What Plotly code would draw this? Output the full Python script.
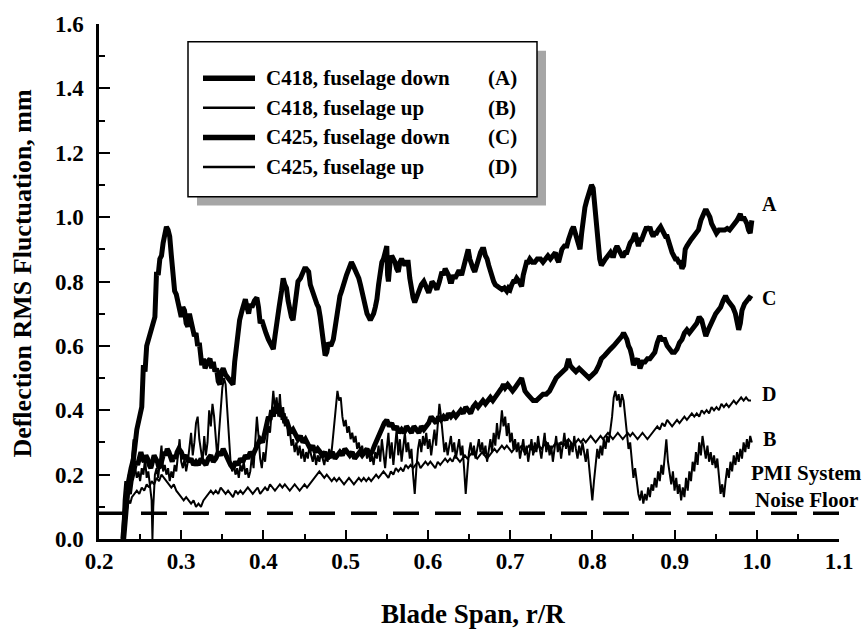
import plotly.graph_objects as go

# ---- data: deflection RMS fluctuation (mm) vs blade span r/R ----
a_x = [0.230,0.233,0.236,0.239,0.242,0.246,0.249,0.252,0.254,0.256,0.258,0.262,0.266,0.268,0.270,0.272,0.274,0.276,0.278,0.280,0.282,0.284,0.286,0.288,0.290,0.292,0.294,0.296,0.298,0.300,0.302,0.304,0.306,0.308,0.310,0.312,0.314,0.316,0.318,0.320,0.322,0.325,0.327,0.329,0.332,0.335,0.337,0.339,0.341,0.343,0.345,0.347,0.349,0.351,0.354,0.357,0.360,0.363,0.365,0.367,0.369,0.371,0.374,0.378,0.380,0.382,0.384,0.386,0.389,0.392,0.394,0.396,0.398,0.400,0.403,0.406,0.409,0.412,0.414,0.416,0.419,0.422,0.424,0.426,0.428,0.430,0.432,0.434,0.436,0.438,0.440,0.442,0.445,0.448,0.450,0.452,0.455,0.457,0.459,0.461,0.463,0.465,0.467,0.469,0.471,0.473,0.475,0.477,0.479,0.482,0.485,0.487,0.489,0.491,0.493,0.495,0.497,0.499,0.501,0.504,0.507,0.509,0.511,0.513,0.516,0.518,0.520,0.523,0.526,0.528,0.530,0.532,0.534,0.536,0.538,0.540,0.542,0.544,0.546,0.548,0.550,0.551,0.552,0.554,0.556,0.558,0.560,0.562,0.564,0.566,0.568,0.570,0.572,0.574,0.576,0.578,0.580,0.582,0.584,0.586,0.589,0.592,0.595,0.597,0.599,0.601,0.603,0.605,0.608,0.611,0.614,0.617,0.619,0.621,0.623,0.625,0.627,0.629,0.631,0.633,0.635,0.637,0.639,0.641,0.643,0.645,0.647,0.649,0.651,0.653,0.655,0.657,0.660,0.664,0.666,0.668,0.670,0.672,0.674,0.676,0.678,0.680,0.682,0.684,0.687,0.690,0.693,0.696,0.698,0.700,0.702,0.704,0.706,0.708,0.711,0.714,0.716,0.718,0.720,0.722,0.724,0.727,0.730,0.733,0.737,0.740,0.743,0.746,0.749,0.752,0.755,0.757,0.759,0.761,0.763,0.766,0.769,0.771,0.773,0.775,0.777,0.779,0.781,0.783,0.785,0.787,0.789,0.791,0.793,0.795,0.797,0.799,0.801,0.803,0.805,0.807,0.809,0.811,0.813,0.816,0.819,0.822,0.824,0.826,0.828,0.830,0.832,0.834,0.836,0.838,0.840,0.842,0.844,0.846,0.849,0.852,0.854,0.856,0.858,0.860,0.863,0.866,0.868,0.870,0.872,0.874,0.876,0.878,0.880,0.883,0.885,0.887,0.889,0.891,0.893,0.895,0.897,0.899,0.901,0.903,0.905,0.907,0.909,0.911,0.913,0.915,0.917,0.920,0.923,0.926,0.929,0.932,0.935,0.937,0.939,0.941,0.943,0.945,0.947,0.949,0.951,0.954,0.958,0.961,0.964,0.967,0.970,0.972,0.974,0.976,0.978,0.980,0.982,0.984,0.986,0.988,0.990,0.992,0.994]
a_y = [0.00,0.10,0.18,0.22,0.25,0.34,0.38,0.41,0.54,0.52,0.60,0.64,0.67,0.69,0.83,0.82,0.87,0.88,0.92,0.95,0.97,0.96,0.94,0.88,0.83,0.77,0.76,0.73,0.72,0.69,0.72,0.71,0.67,0.66,0.70,0.68,0.66,0.63,0.64,0.60,0.61,0.54,0.56,0.53,0.55,0.56,0.53,0.55,0.52,0.53,0.49,0.48,0.52,0.53,0.51,0.50,0.49,0.48,0.55,0.60,0.64,0.68,0.71,0.745,0.72,0.70,0.73,0.72,0.74,0.75,0.72,0.67,0.68,0.66,0.64,0.62,0.60,0.59,0.63,0.68,0.72,0.77,0.81,0.79,0.78,0.74,0.70,0.69,0.68,0.72,0.78,0.80,0.81,0.83,0.84,0.84,0.83,0.79,0.77,0.75,0.745,0.73,0.72,0.69,0.66,0.61,0.57,0.58,0.61,0.60,0.62,0.66,0.69,0.72,0.755,0.77,0.79,0.80,0.82,0.84,0.86,0.85,0.84,0.83,0.81,0.79,0.765,0.73,0.70,0.69,0.68,0.69,0.70,0.72,0.745,0.79,0.84,0.86,0.87,0.89,0.91,0.82,0.80,0.86,0.88,0.87,0.86,0.84,0.83,0.86,0.87,0.86,0.85,0.86,0.86,0.81,0.775,0.75,0.735,0.75,0.775,0.79,0.80,0.79,0.78,0.765,0.78,0.80,0.79,0.775,0.80,0.83,0.82,0.84,0.83,0.82,0.80,0.80,0.82,0.81,0.82,0.83,0.83,0.82,0.84,0.86,0.88,0.90,0.87,0.85,0.84,0.83,0.86,0.89,0.90,0.90,0.88,0.87,0.85,0.83,0.81,0.80,0.79,0.785,0.78,0.775,0.78,0.77,0.78,0.775,0.79,0.80,0.80,0.81,0.80,0.785,0.82,0.85,0.86,0.86,0.87,0.86,0.86,0.87,0.87,0.86,0.87,0.88,0.87,0.88,0.89,0.87,0.86,0.88,0.90,0.91,0.91,0.93,0.95,0.96,0.97,0.95,0.93,0.91,0.90,0.95,1.00,1.03,1.05,1.07,1.09,1.10,1.09,1.04,0.99,0.91,0.87,0.85,0.86,0.87,0.88,0.89,0.88,0.88,0.90,0.91,0.90,0.89,0.88,0.88,0.89,0.89,0.91,0.92,0.93,0.95,0.93,0.91,0.93,0.93,0.95,0.97,0.96,0.97,0.95,0.94,0.95,0.95,0.96,0.97,0.96,0.95,0.94,0.94,0.92,0.90,0.89,0.88,0.87,0.87,0.86,0.86,0.84,0.85,0.90,0.91,0.92,0.93,0.94,0.95,0.96,0.99,1.01,1.02,1.02,1.01,1.00,0.98,0.97,0.96,0.95,0.96,0.96,0.96,0.965,0.96,0.97,0.975,0.98,0.99,1.00,1.01,0.99,1.00,0.99,0.98,0.96,0.95,0.99]

b_x = [0.228,0.230,0.232,0.234,0.236,0.238,0.240,0.242,0.244,0.246,0.248,0.250,0.252,0.254,0.256,0.258,0.260,0.262,0.264,0.265,0.266,0.268,0.270,0.272,0.274,0.276,0.278,0.280,0.282,0.284,0.286,0.288,0.290,0.292,0.294,0.296,0.298,0.300,0.302,0.304,0.306,0.308,0.310,0.312,0.314,0.316,0.318,0.320,0.322,0.324,0.326,0.328,0.330,0.332,0.334,0.336,0.338,0.340,0.342,0.344,0.346,0.348,0.350,0.352,0.354,0.356,0.358,0.360,0.362,0.364,0.366,0.368,0.370,0.372,0.374,0.376,0.378,0.380,0.382,0.384,0.386,0.388,0.390,0.392,0.394,0.396,0.398,0.400,0.402,0.404,0.406,0.408,0.410,0.412,0.414,0.416,0.418,0.420,0.422,0.424,0.426,0.428,0.430,0.432,0.434,0.436,0.438,0.440,0.442,0.444,0.446,0.448,0.450,0.452,0.454,0.456,0.458,0.460,0.462,0.464,0.466,0.468,0.470,0.472,0.474,0.476,0.478,0.480,0.482,0.484,0.486,0.488,0.490,0.492,0.494,0.496,0.498,0.500,0.502,0.504,0.506,0.508,0.510,0.512,0.514,0.516,0.518,0.520,0.522,0.524,0.526,0.528,0.530,0.532,0.534,0.536,0.538,0.540,0.542,0.544,0.546,0.548,0.550,0.552,0.554,0.556,0.558,0.560,0.562,0.564,0.566,0.568,0.570,0.572,0.574,0.576,0.578,0.580,0.582,0.584,0.586,0.588,0.590,0.592,0.594,0.596,0.598,0.600,0.602,0.604,0.606,0.608,0.610,0.612,0.614,0.616,0.618,0.620,0.622,0.624,0.626,0.628,0.630,0.632,0.634,0.636,0.638,0.640,0.642,0.644,0.646,0.648,0.650,0.652,0.654,0.656,0.658,0.660,0.662,0.664,0.666,0.668,0.670,0.672,0.674,0.676,0.678,0.680,0.682,0.684,0.686,0.688,0.690,0.692,0.694,0.696,0.698,0.700,0.702,0.704,0.706,0.708,0.710,0.712,0.714,0.716,0.718,0.720,0.722,0.724,0.726,0.728,0.730,0.732,0.734,0.736,0.738,0.740,0.742,0.744,0.746,0.748,0.750,0.752,0.754,0.756,0.758,0.760,0.762,0.764,0.766,0.768,0.770,0.772,0.774,0.776,0.778,0.780,0.782,0.784,0.786,0.788,0.790,0.792,0.794,0.796,0.798,0.800,0.802,0.804,0.806,0.808,0.810,0.812,0.814,0.816,0.818,0.820,0.822,0.824,0.826,0.828,0.830,0.832,0.834,0.836,0.838,0.840,0.842,0.844,0.846,0.848,0.850,0.852,0.854,0.856,0.858,0.860,0.862,0.864,0.866,0.868,0.870,0.872,0.874,0.876,0.878,0.880,0.882,0.884,0.886,0.888,0.890,0.892,0.894,0.896,0.898,0.900,0.902,0.904,0.906,0.908,0.910,0.912,0.914,0.916,0.918,0.920,0.922,0.924,0.926,0.928,0.930,0.932,0.934,0.936,0.938,0.940,0.942,0.944,0.946,0.948,0.950,0.952,0.954,0.956,0.958,0.960,0.962,0.964,0.966,0.968,0.970,0.972,0.974,0.976,0.978,0.980,0.982,0.984,0.986,0.988,0.990,0.992,0.994]
b_y = [0.00,0.12,0.18,0.15,0.20,0.17,0.25,0.31,0.22,0.19,0.21,0.18,0.22,0.20,0.25,0.19,0.21,0.17,0.12,0.00,0.10,0.20,0.22,0.19,0.24,0.29,0.21,0.23,0.20,0.22,0.18,0.21,0.19,0.23,0.21,0.26,0.31,0.24,0.22,0.25,0.21,0.24,0.28,0.33,0.26,0.30,0.36,0.38,0.31,0.27,0.24,0.32,0.26,0.30,0.40,0.35,0.42,0.38,0.30,0.25,0.33,0.42,0.47,0.50,0.48,0.40,0.30,0.24,0.21,0.23,0.20,0.22,0.19,0.23,0.21,0.24,0.20,0.22,0.19,0.21,0.26,0.22,0.30,0.38,0.32,0.25,0.22,0.27,0.24,0.30,0.35,0.33,0.40,0.46,0.40,0.44,0.38,0.45,0.37,0.41,0.35,0.38,0.32,0.34,0.29,0.31,0.27,0.30,0.26,0.29,0.25,0.28,0.24,0.27,0.25,0.29,0.26,0.24,0.27,0.23,0.26,0.24,0.27,0.25,0.23,0.26,0.24,0.28,0.25,0.30,0.36,0.42,0.46,0.43,0.44,0.38,0.35,0.37,0.33,0.35,0.31,0.33,0.30,0.32,0.28,0.30,0.27,0.29,0.26,0.28,0.25,0.27,0.24,0.26,0.23,0.27,0.25,0.29,0.24,0.31,0.26,0.22,0.28,0.33,0.25,0.30,0.23,0.28,0.34,0.26,0.31,0.24,0.29,0.33,0.27,0.30,0.25,0.28,0.20,0.14,0.22,0.28,0.31,0.27,0.32,0.29,0.33,0.28,0.31,0.26,0.30,0.34,0.29,0.36,0.42,0.38,0.31,0.27,0.30,0.26,0.29,0.32,0.27,0.30,0.25,0.28,0.31,0.26,0.29,0.22,0.14,0.21,0.27,0.30,0.26,0.29,0.25,0.28,0.31,0.27,0.30,0.26,0.29,0.24,0.28,0.31,0.27,0.33,0.29,0.36,0.31,0.34,0.40,0.35,0.38,0.32,0.36,0.30,0.33,0.28,0.31,0.27,0.30,0.25,0.28,0.31,0.26,0.29,0.24,0.28,0.31,0.26,0.30,0.27,0.32,0.28,0.25,0.29,0.33,0.27,0.30,0.26,0.29,0.24,0.28,0.32,0.27,0.30,0.25,0.29,0.33,0.28,0.31,0.26,0.30,0.27,0.32,0.28,0.25,0.29,0.26,0.30,0.27,0.24,0.28,0.22,0.17,0.12,0.18,0.24,0.28,0.25,0.29,0.26,0.31,0.28,0.32,0.30,0.34,0.38,0.44,0.46,0.43,0.45,0.41,0.45,0.43,0.38,0.32,0.28,0.30,0.24,0.19,0.22,0.17,0.14,0.12,0.15,0.11,0.14,0.12,0.16,0.13,0.17,0.15,0.19,0.16,0.21,0.18,0.23,0.20,0.27,0.31,0.24,0.20,0.17,0.21,0.15,0.19,0.14,0.17,0.12,0.16,0.13,0.19,0.15,0.21,0.18,0.24,0.21,0.27,0.23,0.30,0.26,0.32,0.28,0.25,0.29,0.24,0.27,0.23,0.26,0.22,0.25,0.19,0.14,0.17,0.13,0.18,0.22,0.19,0.24,0.21,0.26,0.23,0.27,0.24,0.28,0.25,0.30,0.27,0.31,0.28,0.32,0.30]

c_x = [0.229,0.231,0.233,0.235,0.237,0.239,0.241,0.243,0.245,0.247,0.249,0.251,0.253,0.255,0.257,0.259,0.261,0.263,0.265,0.267,0.269,0.271,0.273,0.275,0.277,0.279,0.281,0.283,0.285,0.287,0.289,0.291,0.293,0.295,0.297,0.300,0.303,0.306,0.309,0.312,0.315,0.318,0.321,0.324,0.327,0.330,0.333,0.336,0.339,0.342,0.345,0.348,0.351,0.354,0.357,0.360,0.363,0.366,0.369,0.372,0.375,0.378,0.381,0.384,0.387,0.390,0.393,0.396,0.399,0.402,0.404,0.406,0.408,0.410,0.412,0.414,0.416,0.418,0.420,0.422,0.424,0.426,0.428,0.430,0.433,0.436,0.439,0.442,0.445,0.448,0.451,0.454,0.457,0.460,0.463,0.466,0.469,0.472,0.475,0.478,0.481,0.484,0.487,0.490,0.493,0.496,0.499,0.502,0.505,0.508,0.511,0.514,0.517,0.520,0.523,0.526,0.529,0.532,0.535,0.538,0.541,0.544,0.547,0.550,0.553,0.556,0.559,0.562,0.565,0.568,0.571,0.574,0.577,0.580,0.583,0.586,0.589,0.592,0.595,0.598,0.601,0.604,0.607,0.610,0.613,0.616,0.619,0.622,0.625,0.628,0.631,0.634,0.637,0.640,0.643,0.646,0.649,0.652,0.655,0.658,0.661,0.664,0.667,0.670,0.673,0.676,0.679,0.682,0.685,0.688,0.690,0.692,0.694,0.697,0.700,0.703,0.706,0.709,0.712,0.714,0.716,0.718,0.721,0.724,0.728,0.732,0.736,0.740,0.744,0.748,0.752,0.756,0.760,0.764,0.768,0.771,0.773,0.776,0.780,0.784,0.788,0.792,0.796,0.800,0.804,0.808,0.811,0.815,0.818,0.822,0.826,0.830,0.833,0.836,0.838,0.840,0.842,0.844,0.846,0.848,0.850,0.852,0.855,0.858,0.861,0.864,0.867,0.870,0.873,0.876,0.879,0.882,0.885,0.888,0.891,0.894,0.897,0.900,0.903,0.906,0.909,0.912,0.915,0.918,0.921,0.924,0.927,0.930,0.933,0.936,0.938,0.941,0.944,0.947,0.950,0.953,0.956,0.959,0.962,0.965,0.968,0.971,0.974,0.976,0.978,0.980,0.982,0.985,0.988,0.991,0.994]
c_y = [0.00,0.08,0.12,0.15,0.14,0.18,0.20,0.22,0.24,0.23,0.26,0.27,0.25,0.24,0.26,0.25,0.23,0.22,0.24,0.26,0.25,0.24,0.22,0.23,0.25,0.27,0.26,0.28,0.27,0.25,0.24,0.26,0.25,0.27,0.28,0.27,0.25,0.26,0.24,0.25,0.23,0.24,0.23,0.25,0.24,0.23,0.25,0.26,0.24,0.25,0.27,0.26,0.28,0.26,0.25,0.23,0.22,0.24,0.23,0.25,0.24,0.26,0.25,0.27,0.26,0.28,0.30,0.31,0.30,0.33,0.36,0.38,0.37,0.40,0.38,0.41,0.39,0.42,0.40,0.38,0.39,0.36,0.37,0.35,0.33,0.34,0.32,0.31,0.32,0.30,0.31,0.29,0.28,0.29,0.27,0.28,0.27,0.26,0.27,0.25,0.26,0.27,0.25,0.26,0.27,0.26,0.28,0.27,0.26,0.27,0.25,0.26,0.27,0.26,0.27,0.28,0.26,0.27,0.29,0.31,0.33,0.35,0.36,0.37,0.35,0.36,0.34,0.35,0.33,0.34,0.33,0.35,0.34,0.33,0.35,0.34,0.33,0.35,0.34,0.35,0.36,0.38,0.37,0.36,0.38,0.37,0.38,0.37,0.39,0.38,0.39,0.38,0.39,0.40,0.39,0.41,0.40,0.39,0.41,0.42,0.41,0.42,0.43,0.42,0.43,0.44,0.43,0.44,0.45,0.46,0.47,0.48,0.47,0.48,0.47,0.46,0.47,0.48,0.49,0.50,0.48,0.46,0.45,0.44,0.43,0.43,0.44,0.45,0.45,0.46,0.48,0.50,0.51,0.52,0.53,0.56,0.54,0.53,0.52,0.53,0.52,0.51,0.50,0.51,0.52,0.54,0.56,0.57,0.58,0.59,0.60,0.61,0.62,0.63,0.64,0.63,0.62,0.60,0.59,0.57,0.54,0.55,0.56,0.53,0.55,0.55,0.56,0.56,0.57,0.58,0.61,0.63,0.62,0.62,0.60,0.59,0.58,0.58,0.59,0.61,0.62,0.64,0.65,0.64,0.65,0.66,0.67,0.69,0.68,0.65,0.63,0.65,0.67,0.68,0.70,0.71,0.72,0.74,0.755,0.74,0.73,0.72,0.70,0.67,0.65,0.67,0.71,0.73,0.74,0.75,0.745]

d_x = [0.230,0.232,0.234,0.236,0.238,0.240,0.243,0.246,0.249,0.252,0.255,0.258,0.261,0.264,0.267,0.270,0.273,0.276,0.279,0.282,0.285,0.288,0.291,0.294,0.297,0.300,0.303,0.306,0.309,0.312,0.315,0.318,0.321,0.324,0.327,0.330,0.333,0.336,0.339,0.342,0.345,0.348,0.351,0.354,0.357,0.360,0.363,0.366,0.369,0.372,0.375,0.378,0.381,0.384,0.387,0.390,0.393,0.396,0.399,0.402,0.405,0.408,0.411,0.414,0.417,0.420,0.423,0.426,0.429,0.432,0.435,0.438,0.441,0.444,0.447,0.450,0.453,0.456,0.459,0.462,0.465,0.468,0.471,0.474,0.477,0.480,0.483,0.486,0.489,0.492,0.495,0.498,0.501,0.504,0.507,0.510,0.513,0.516,0.519,0.522,0.525,0.528,0.531,0.534,0.537,0.540,0.543,0.546,0.549,0.552,0.555,0.558,0.561,0.564,0.567,0.570,0.573,0.576,0.579,0.582,0.585,0.588,0.591,0.594,0.597,0.600,0.603,0.606,0.609,0.612,0.615,0.618,0.621,0.624,0.627,0.630,0.633,0.636,0.639,0.642,0.645,0.648,0.651,0.654,0.657,0.660,0.663,0.666,0.669,0.672,0.675,0.678,0.681,0.684,0.687,0.690,0.693,0.696,0.699,0.702,0.705,0.708,0.711,0.714,0.717,0.720,0.723,0.726,0.729,0.732,0.735,0.738,0.741,0.744,0.747,0.750,0.753,0.756,0.759,0.762,0.765,0.768,0.771,0.774,0.777,0.780,0.783,0.786,0.789,0.792,0.795,0.798,0.801,0.804,0.807,0.810,0.813,0.816,0.819,0.822,0.825,0.828,0.831,0.834,0.837,0.840,0.843,0.846,0.849,0.852,0.855,0.858,0.861,0.864,0.867,0.870,0.873,0.876,0.879,0.882,0.885,0.888,0.891,0.894,0.897,0.900,0.903,0.906,0.909,0.912,0.915,0.918,0.921,0.924,0.927,0.930,0.933,0.936,0.939,0.942,0.945,0.948,0.951,0.954,0.957,0.960,0.963,0.966,0.969,0.972,0.975,0.978,0.981,0.984,0.987,0.990,0.993]
d_y = [0.00,0.05,0.09,0.12,0.11,0.13,0.14,0.15,0.14,0.16,0.15,0.17,0.16,0.18,0.17,0.19,0.18,0.20,0.19,0.18,0.17,0.16,0.17,0.15,0.14,0.13,0.12,0.13,0.12,0.11,0.12,0.10,0.11,0.10,0.12,0.13,0.14,0.15,0.14,0.15,0.14,0.16,0.15,0.14,0.15,0.14,0.13,0.15,0.14,0.15,0.14,0.15,0.16,0.15,0.14,0.15,0.16,0.14,0.15,0.16,0.15,0.17,0.16,0.15,0.16,0.17,0.16,0.17,0.16,0.15,0.16,0.17,0.16,0.15,0.16,0.17,0.16,0.17,0.18,0.19,0.20,0.21,0.20,0.19,0.20,0.19,0.18,0.19,0.18,0.19,0.18,0.17,0.18,0.19,0.18,0.17,0.18,0.19,0.18,0.19,0.18,0.19,0.18,0.19,0.20,0.19,0.20,0.21,0.20,0.19,0.21,0.20,0.22,0.21,0.22,0.21,0.23,0.22,0.23,0.22,0.23,0.24,0.22,0.23,0.24,0.23,0.24,0.23,0.22,0.24,0.23,0.24,0.25,0.24,0.25,0.24,0.26,0.25,0.24,0.25,0.26,0.25,0.26,0.27,0.26,0.25,0.26,0.27,0.26,0.25,0.26,0.27,0.28,0.27,0.28,0.29,0.28,0.29,0.28,0.27,0.28,0.29,0.28,0.29,0.27,0.28,0.29,0.28,0.27,0.28,0.29,0.28,0.29,0.30,0.29,0.28,0.29,0.30,0.29,0.30,0.29,0.30,0.31,0.30,0.29,0.30,0.31,0.30,0.31,0.30,0.31,0.32,0.31,0.30,0.31,0.32,0.31,0.32,0.33,0.32,0.31,0.32,0.33,0.32,0.31,0.32,0.33,0.32,0.33,0.32,0.31,0.32,0.33,0.32,0.31,0.32,0.33,0.34,0.35,0.34,0.36,0.35,0.37,0.36,0.35,0.36,0.37,0.36,0.37,0.38,0.37,0.38,0.39,0.38,0.39,0.38,0.40,0.39,0.40,0.39,0.41,0.40,0.41,0.40,0.42,0.41,0.42,0.41,0.42,0.43,0.42,0.43,0.44,0.43,0.44,0.43,0.43]

noise_floor = 0.08
series_names = ["C418, fuselage down", "C418, fuselage up", "C425, fuselage down", "C425, fuselage up"]
series_tags = ["(A)", "(B)", "(C)", "(D)"]
end_labels = ["A", "B", "C", "D"]
end_label_y = [1.04, 0.31, 0.748, 0.45]

# ---- geometry (pixels) ----
W, H = 866, 632
ML, MR, MT, MB = 99, 27, 17, 93
PW, PH = W - ML - MR, H - MT - MB
FONT = "Liberation Serif"


def px(xp):
    return (xp - ML) / PW


def py(yp):
    return 1 - (yp - MT) / PH


def bold(size):
    return dict(family=FONT, size=size, color="black", weight="bold")


fig = go.Figure()

widths = [5, 2, 5, 2]
for xs, ys, w, name in zip([a_x, b_x, c_x, d_x], [a_y, b_y, c_y, d_y], widths, series_names):
    fig.add_trace(go.Scatter(x=xs, y=ys, mode="lines", name=name,
                             line=dict(color="black", width=w), showlegend=False))

# noise floor of the PMI system
fig.add_trace(go.Scatter(x=[0.2, 1.1], y=[noise_floor, noise_floor], mode="lines",
                         line=dict(color="black", width=3.5, dash="26px,16px"),
                         showlegend=False))

shapes = []
# legend panel with drop shadow
bx0, bx1, by0, by1, sh = 188, 537, 35, 192, 9
shapes.append(dict(type="rect", xref="paper", yref="paper", x0=px(bx0 + sh), x1=px(bx1 + sh),
                   y0=py(by1 + sh), y1=py(by0 + sh), fillcolor="#a6a6a6", line=dict(width=0), layer="above"))
shapes.append(dict(type="rect", xref="paper", yref="paper", x0=px(bx0), x1=px(bx1),
                   y0=py(by1), y1=py(by0), fillcolor="white", line=dict(color="black", width=1.5), layer="above"))
row_y = [72, 102, 132, 162]
annotations = []
for i, (ry, w) in enumerate(zip(row_y, widths)):
    shapes.append(dict(type="line", xref="paper", yref="paper", x0=px(203), x1=px(255),
                       y0=py(ry), y1=py(ry), line=dict(color="black", width=w + 0.5), layer="above"))
    annotations.append(dict(xref="paper", yref="paper", x=px(264), y=py(ry), xanchor="left", yanchor="middle",
                            text=series_names[i], showarrow=False, font=bold(21)))
    annotations.append(dict(xref="paper", yref="paper", x=px(486), y=py(ry), xanchor="left", yanchor="middle",
                            text=series_tags[i], showarrow=False, font=bold(21)))

for lab, ly in zip(end_labels, end_label_y):
    annotations.append(dict(x=1.015, y=ly, xref="x", yref="y", text=lab, showarrow=False,
                            xanchor="center", yanchor="middle", font=bold(20)))

annotations.append(dict(x=1.06, y=0.205, xref="x", yref="y", text="PMI System", showarrow=False,
                        xanchor="center", yanchor="middle", font=bold(21)))
annotations.append(dict(x=1.06, y=0.12, xref="x", yref="y", text="Noise Floor", showarrow=False,
                        xanchor="center", yanchor="middle", font=bold(21)))

# axis titles
annotations.append(dict(xref="paper", yref="paper", x=px(473), y=py(615), text="Blade Span, r/R",
                        showarrow=False, xanchor="center", yanchor="middle", font=bold(27)))
annotations.append(dict(xref="paper", yref="paper", x=px(23), y=py(270), text="Deflection RMS Fluctuation, mm",
                        showarrow=False, xanchor="center", yanchor="middle", textangle=-90, font=bold(26)))

axis_common = dict(showline=True, linecolor="black", linewidth=2.5, ticks="inside", tickcolor="black",
                   tickwidth=2, showgrid=False, zeroline=False, tickfont=bold(23))

fig.update_layout(
    width=W, height=H, margin=dict(l=ML, r=MR, t=MT, b=MB),
    paper_bgcolor="white", plot_bgcolor="white",
    xaxis=dict(range=[0.2, 1.1], dtick=0.1, tick0=0.2, tickformat=".1f", ticklen=9,
               minor=dict(ticks="inside", dtick=0.05, ticklen=5, tickwidth=2, tickcolor="black"),
               **axis_common),
    yaxis=dict(range=[0, 1.6], dtick=0.2, tick0=0, tickformat=".1f", ticklen=11, ticklabelstandoff=8,
               minor=dict(ticks="inside", dtick=0.1, ticklen=6, tickwidth=2, tickcolor="black"),
               **axis_common),
    shapes=shapes, annotations=annotations,
)

fig.write_html("out.html")
